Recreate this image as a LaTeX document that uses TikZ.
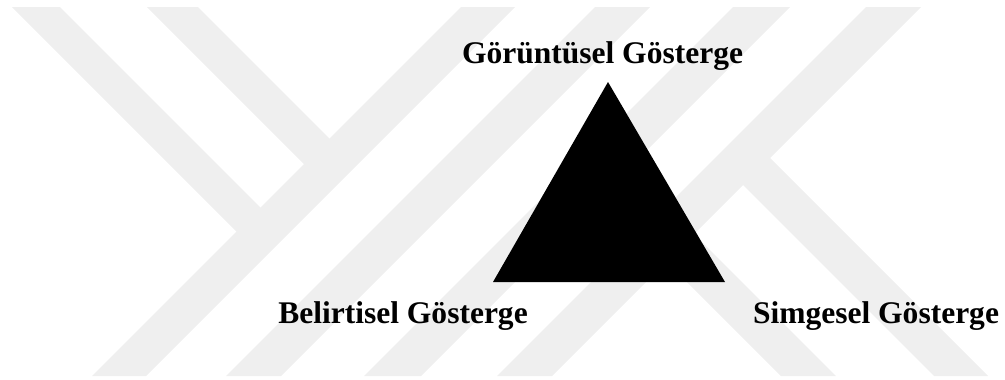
\documentclass[tikz,border=0pt]{standalone}
\usepackage{fontspec}
\setmainfont{Liberation Serif}
\usetikzlibrary{positioning}
\definecolor{filigrangri}{RGB}{239,239,239}
\tikzset{
  bant/.style={fill=filigrangri},
  etiket/.style={font=\fontsize{26.9}{30}\selectfont\bfseries, anchor=base, inner sep=0pt}
}
\begin{document}
\begin{tikzpicture}[x=0.03cm, y=-0.03cm]
\useasboundingbox (0,0) rectangle (1005,379);
% filigran: egik bantlar
\fill[bant] (461,7) -- (515,7) -- (146,376) -- (92,376) -- cycle;
\fill[bant] (595,7) -- (650,7) -- (281,376) -- (226,376) -- cycle;
\fill[bant] (733,7) -- (790,7) -- (421,376) -- (364,376) -- cycle;
\fill[bant] (866,7) -- (921,7) -- (552,376) -- (497,376) -- cycle;
% sol kollar
\fill[bant] (12,7) -- (60,7) -- (266.5,213.5) -- (242.5,237.5) -- cycle;
\fill[bant] (147,7) -- (198,7) -- (335.5,144.5) -- (310,170) -- cycle;
% sag kollar
\fill[bant] (764,152) -- (988,376) -- (934,376) -- (737,179) -- cycle;
\fill[bant] (688,228) -- (836,376) -- (781,376) -- (660.5,255.5) -- cycle;
% ucgen
\coordinate (tepe) at (608,82);
\coordinate (solkose) at (493,282);
\coordinate (sagkose) at (725,282);
\fill (tepe) -- (solkose) -- (sagkose) -- cycle;
% etiketler
\node[etiket] (goruntusel) at (602.5,63) {Görüntüsel Gösterge};
\node[etiket] (belirtisel) at (403,323) {Belirtisel Gösterge};
\node[etiket] (simgesel) at (876,323) {Simgesel Gösterge};
\end{tikzpicture}
\end{document}
